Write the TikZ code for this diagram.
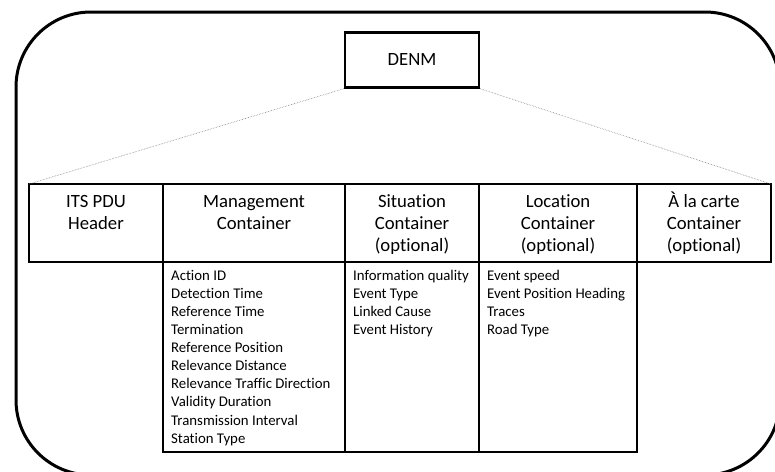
\documentclass[tikz,border=0pt]{standalone}
\usepackage{fontspec}
\setmainfont{Carlito}[Ligatures=NoCommon]
\usetikzlibrary{positioning}

% fixed first-line heights so the rows line up
\newcommand{\hdrstrut}{\rule{0pt}{17pt}}
\newcommand{\liststrut}{\rule{0pt}{14pt}}

\begin{document}
\begin{tikzpicture}[
    x=1pt, y=-1pt,
    node distance = 0pt,
    hdr/.style = {rectangle, draw=black, line width=1.4pt, minimum width=#1, minimum height=78pt, inner sep=0pt, outer sep=0pt},
    body/.style = {rectangle, draw=black, line width=1.4pt, minimum width=#1, minimum height=190pt, inner sep=0pt, outer sep=0pt},
    hdrtext/.style = {anchor=north, align=center, inner sep=0pt, yshift=-6pt, font=\fontsize{18.7}{22}\selectfont},
    listtext/.style = {anchor=north west, align=left, inner sep=0pt, xshift=8pt, yshift=-4pt, font=\fontsize{14.8}{18.1}\selectfont},
    denmbox/.style = {rectangle, draw=black, line width=2.4pt, minimum width=134pt, minimum height=55pt, font=\fontsize{18.7}{22}\selectfont}
]
    \useasboundingbox (0,0) rectangle (775,471);
    \clip (0,0) rectangle (775,471);

    % outer frame
    \draw [line width=3pt, rounded corners=75pt] (16,12) rectangle (780,475);

    % message box
    \node [denmbox] (denm) at (412,60) {DENM};

    % header row
    \node [hdr=134pt, anchor=north west, label={[hdrtext]north:\hdrstrut ITS PDU\\Header}] (its) at (29,184) {};
    \node [hdr=182pt, right=of its, label={[hdrtext]north:\hdrstrut Management\\Container}] (mgmt) {};
    \node [hdr=134pt, right=of mgmt, label={[hdrtext]north:\hdrstrut Situation\\Container\\(optional)}] (situ) {};
    \node [hdr=158pt, right=of situ, label={[hdrtext]north:\hdrstrut Location\\Container\\(optional)}] (loc) {};
    \node [hdr=134pt, right=of loc, label={[hdrtext]north:\hdrstrut À la carte\\Container\\(optional)}] (carte) {};

    % field lists
    \node [body=182pt, below=of mgmt, label={[listtext]north west:\liststrut Action ID\\Detection Time\\Reference Time\\Termination\\Reference Position\\Relevance Distance\\Relevance Traffic Direction\\Validity Duration\\Transmission Interval\\Station Type}] (mgmt_body) {};
    \node [body=134pt, below=of situ, label={[listtext]north west:\liststrut Information quality\\Event Type\\Linked Cause\\Event History}] (situ_body) {};
    \node [body=158pt, below=of loc, label={[listtext]north west:\liststrut Event speed\\Event Position Heading\\Traces\\Road Type}] (loc_body) {};

    % expansion lines
    \draw [densely dotted, gray, line width=0.6pt] (denm.south west) -- (its.north west);
    \draw [densely dotted, gray, line width=0.6pt] (denm.south east) -- (carte.north east);

\end{tikzpicture}
\end{document}
